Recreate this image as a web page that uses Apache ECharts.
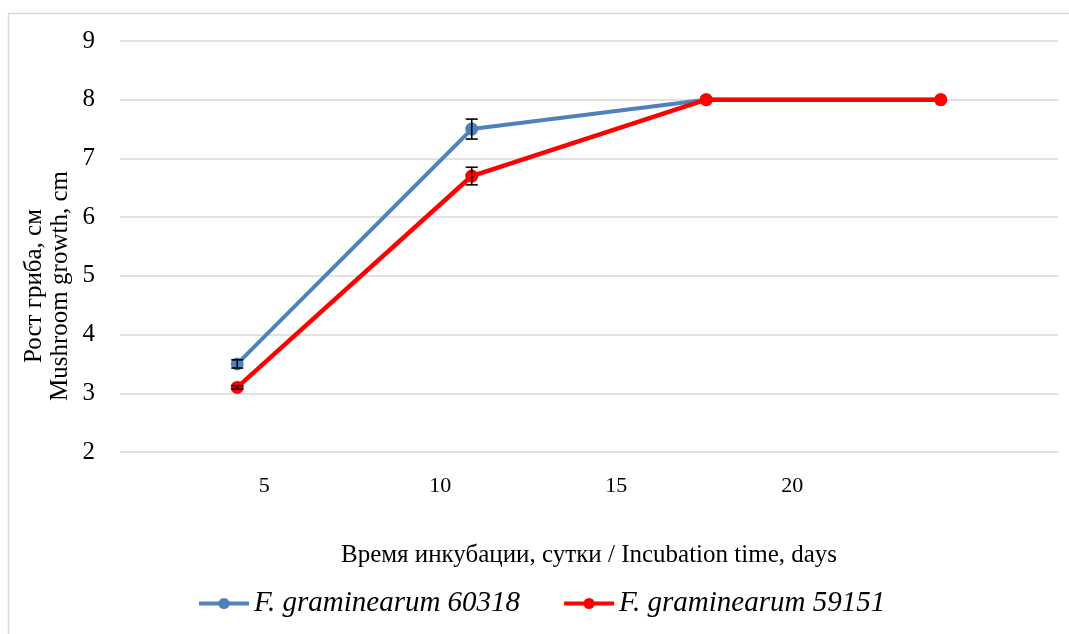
<!DOCTYPE html>
<html><head><meta charset="utf-8">
<script src="https://cdn.jsdelivr.net/npm/echarts@6/dist/echarts.min.js"></script>
<style>html,body{margin:0;padding:0;background:#fff}#c{width:1069px;height:634px}</style>
</head><body><div id="c"></div>
<script>
const days = [5, 10, 15, 20];
const tickLabels = [5, 10, 15, 20];
const s60318 = [3.5, 7.5, 8.0, 8.0];
const s60318Err = [0.07, 0.17, 0, 0];
const s59151 = [3.1, 6.7, 8.0, 8.0];
const s59151Err = [0.03, 0.15, 0, 0];
const names = ['F. graminearum 60318', 'F. graminearum 59151'];
const colors = ['#4F81BD', '#FF0000'];
const yTitle = 'Рост гриба, см\nMushroom growth, cm';
const xTitle = 'Время инкубации, сутки / Incubation time, days';

function pts(v){ return days.map((d,i)=>[d, v[i]]); }
function errData(v,e){ return days.map((d,i)=>[d, v[i]-e[i], v[i]+e[i]]); }
function errSeries(v,e){
  return {type:'custom', xAxisIndex:0, yAxisIndex:0, silent:true, z:5,
    data: errData(v,e).filter(r=>r[2]-r[1]>0),
    renderItem:function(params, api){
      const x=api.value(0), lo=api.coord([x, api.value(1)]), hi=api.coord([x, api.value(2)]);
      const w=6, st={stroke:'#000', lineWidth:1.6};
      return {type:'group', children:[
        {type:'line', shape:{x1:lo[0],y1:lo[1],x2:hi[0],y2:hi[1]}, style:st},
        {type:'line', shape:{x1:lo[0]-w,y1:lo[1],x2:lo[0]+w,y2:lo[1]}, style:st},
        {type:'line', shape:{x1:hi[0]-w,y1:hi[1],x2:hi[0]+w,y2:hi[1]}, style:st}
      ]};
    }};
}
const chart = echarts.init(document.getElementById('c'));
const serif = '"Liberation Serif","Times New Roman",serif';
chart.setOption({
  animation:false,
  textStyle:{fontFamily:serif},
  graphic:[
    {type:'rect', shape:{x:8.5,y:13.5,width:1070,height:640}, style:{fill:'none', stroke:'#d9d9d9', lineWidth:1.5}, silent:true, z:-10},
    {type:'text', x:47, y:286, rotation:Math.PI/2, silent:true,
      style:{text:yTitle, font:'25px '+serif, fill:'#000', align:'center', verticalAlign:'middle', lineHeight:26}}
  ],
  grid:{left:120, right:11, top:41, bottom:182},
  legend:{top:584, left:192, itemGap:42, itemWidth:50, itemHeight:14,
    lineStyle:{width:4},
    textStyle:{fontFamily:serif, fontStyle:'italic', fontSize:29, color:'#000'},
    data:names},
  xAxis:[
    {type:'value', min:2.5, max:22.5, show:false},
    {type:'value', min:0.9, max:27.55, position:'bottom',
      axisLine:{show:false}, axisTick:{show:false}, splitLine:{show:false},
      axisLabel:{customValues:tickLabels, margin:23, fontSize:22, color:'#000', fontFamily:serif},
      name:xTitle, nameLocation:'middle', nameGap:91,
      nameTextStyle:{fontSize:25, color:'#000', fontFamily:serif}}
  ],
  yAxis:{type:'value', min:2, max:9, interval:1,
    axisLine:{show:false}, axisTick:{show:false},
    splitLine:{lineStyle:{color:'#d9d9d9', width:1.5}},
    axisLabel:{fontSize:25, color:'#000', margin:25, fontFamily:serif}},
  series:[
    {name:names[0], type:'line', xAxisIndex:0, data:pts(s60318), symbol:'circle', symbolSize:13,
      lineStyle:{color:colors[0], width:4}, itemStyle:{color:colors[0]}, z:3},
    {name:names[1], type:'line', xAxisIndex:0, data:pts(s59151), symbol:'circle', symbolSize:13,
      lineStyle:{color:colors[1], width:4.5}, itemStyle:{color:colors[1]}, z:4},
    errSeries(s60318, s60318Err),
    errSeries(s59151, s59151Err)
  ]
});
</script></body></html>
